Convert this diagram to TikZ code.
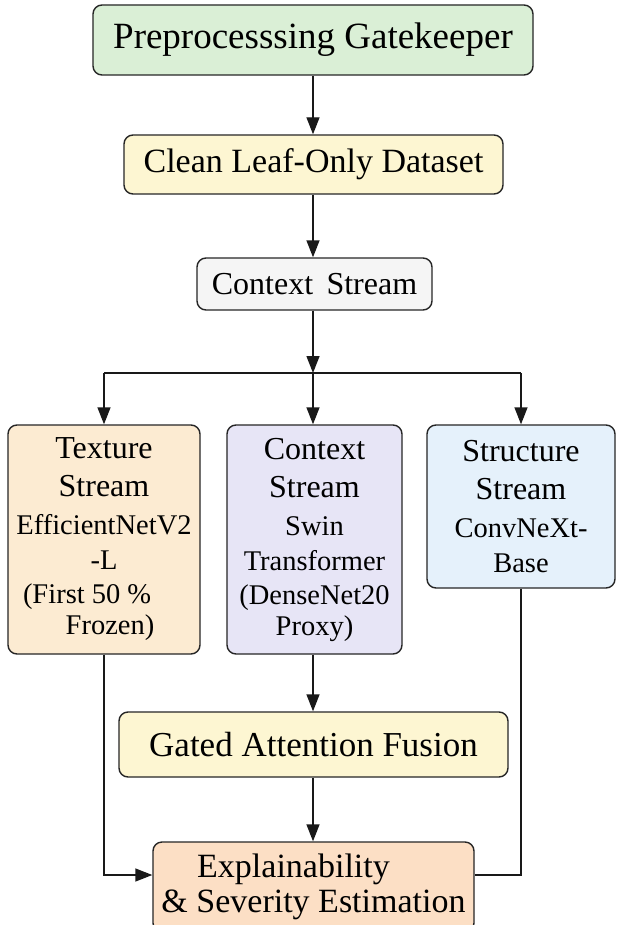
\documentclass[tikz,border=0pt]{standalone}
\usepackage{fontspec}
\setmainfont{Liberation Serif}
\usetikzlibrary{arrows.meta}
\definecolor{cgreen}{HTML}{DAEFD6}
\definecolor{cyellow}{HTML}{FDF6D2}
\definecolor{cgray}{HTML}{F5F5F5}
\definecolor{cpeach}{HTML}{FCEBD2}
\definecolor{clav}{HTML}{E7E5F6}
\definecolor{cblue}{HTML}{E5F1FB}
\definecolor{corange}{HTML}{FCDFC5}
\tikzset{
  box/.style={draw=black!85, line width=1.4pt, rounded corners=9pt, align=center, inner sep=0pt},
  conn/.style={line width=1.4pt, draw=black!90},
  arr/.style={conn, -{Triangle[length=17pt,width=13pt]}},
  hfont/.style={font=\fontsize{32}{38}\selectfont},
}
\newcommand{\bodyf}{\fontsize{28.5}{34}\selectfont}
\begin{document}
\begin{tikzpicture}[x=1pt,y=1pt]
\useasboundingbox[fill=white] (0,0) rectangle (617,-925);
\clip (0,0) rectangle (617,-925);
\node[box, fill=cgreen, minimum width=440pt, minimum height=70pt, font=\fontsize{37}{40}\selectfont] (pre) at (313,-40) {Preprocesssing Gatekeeper};
\node[box, fill=cyellow, minimum width=379pt, minimum height=59pt, font=\fontsize{34}{38}\selectfont] (clean) at (313.5,-164.5) {Clean Leaf-Only Dataset};
\node[box, fill=cgray, minimum width=235pt, minimum height=52pt, font=\fontsize{32}{38}\selectfont] (ctx) at (314.5,-284) {Context\, Stream};
\coordinate (j) at (313,-373);
\node[box, fill=cpeach, minimum width=192pt, minimum height=229pt, hfont] (tex) at (104,-539.5)
  {Texture\\Stream\\{\bodyf EfficientNetV2}\\[-3pt]{\bodyf -L}\\[-4pt]{\bodyf \makebox[162pt][l]{(First 50 \%}}\\[-7pt]{\bodyf \hspace*{12pt}Frozen)}};
\node[box, fill=clav, minimum width=175pt, minimum height=229pt, hfont] (mid) at (314.5,-539.5)
  {Context\\Stream\\{\bodyf Swin}\\[-3pt]{\bodyf Transformer}\\[-4pt]{\bodyf (DenseNet20}\\[-7pt]{\bodyf Proxy)}};
\node[box, fill=cblue, minimum width=188pt, minimum height=163pt, hfont] (str) at (521,-506.5)
  {Structure\\Stream\\{\bodyf ConvNeXt-}\\[-3pt]{\bodyf Base}};
\node[box, fill=cyellow, minimum width=389pt, minimum height=65pt, font=\fontsize{35}{40}\selectfont] (gaf) at (313.5,-744.5) {Gated Attention Fusion};
\node[box, fill=corange, minimum width=321pt, minimum height=90pt, font=\fontsize{34}{35}\selectfont] (expl) at (313.5,-887)
  {Explainability\hspace*{40pt}\\\& Severity Estimation};
\draw[arr] (pre.south -| j) -- (clean.north -| j);
\draw[arr] (clean.south -| j) -- (ctx.north -| j);
\draw[arr] (ctx.south -| j) -- (j);
\draw[conn] (j -| tex) -- (j -| str);
\draw[arr] (j -| tex) -- (tex.north);
\draw[arr] (j) -- (mid.north -| j);
\draw[arr] (j -| str) -- (str.north);
\draw[arr] (mid.south -| j) -- (gaf.north -| j);
\draw[arr] (gaf.south -| j) -- (expl.north -| j);
\draw[arr] (tex.south) |- ([yshift=12pt]expl.west);
\draw[conn] (str.south) |- ([yshift=12pt]expl.east);
\end{tikzpicture}
\end{document}
